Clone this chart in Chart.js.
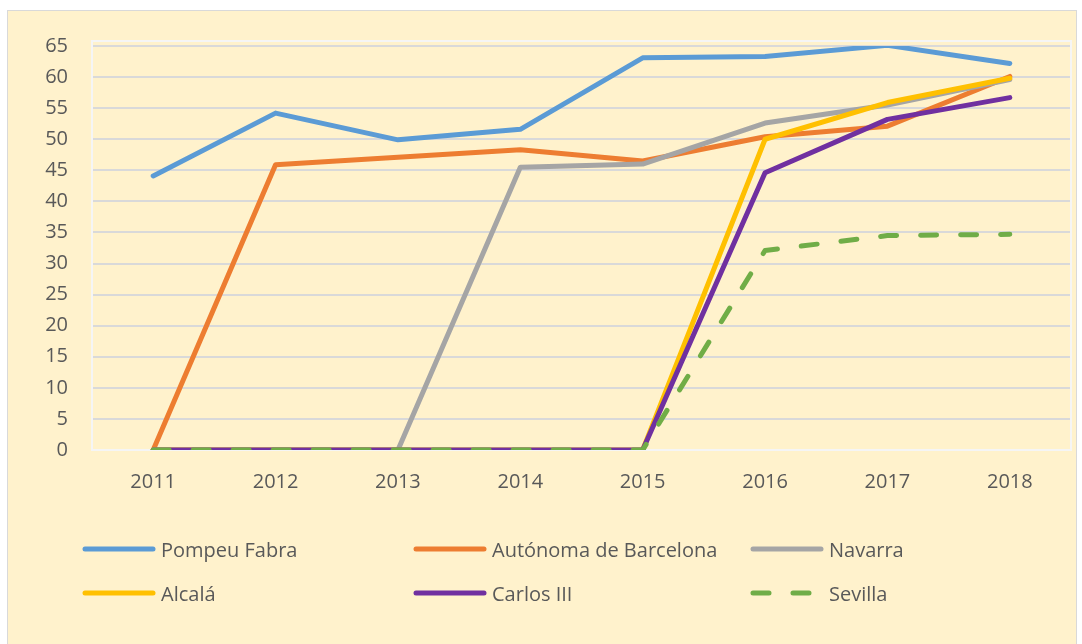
<!DOCTYPE html>
<html>
<head>
<meta charset="utf-8">
<script src="https://cdn.jsdelivr.net/npm/chart.js@4/dist/chart.umd.min.js"></script>
<style>
  body { margin: 0; background: #fff; width: 1082px; height: 644px; position: relative; overflow: hidden; }
  #panel { position: absolute; left: 7px; top: 10px; width: 1068px; height: 640px; background: #FFF2CC; border: 1px solid #D9D9D9; }
  #chartCanvas { position: absolute; left: 0; top: 0; }
  #legend { position: absolute; left: 0; top: 0; font-family: "Open Sans", sans-serif; font-size: 20px; color: #595959; }
  .item { position: absolute; display: flex; align-items: center; height: 30px; white-space: nowrap; }
  .item svg { margin-right: 5px; }
</style>
</head>
<body>
<div id="panel"></div>
<canvas id="chartCanvas" width="1082" height="644"></canvas>
<div id="legend"></div>
<script>
// Categories and series
const years = ['2011', '2012', '2013', '2014', '2015', '2016', '2017', '2018'];
const pompeuFabra = [44.1, 54.2, 49.9, 51.6, 63.1, 63.3, 65.1, 62.2];
const autonomaBarcelona = [0, 45.9, 47.1, 48.3, 46.5, 50.4, 52.1, 60.1];
const navarra = [0, 0, 0, 45.5, 46.0, 52.6, 55.5, 59.6];
const alcala = [0, 0, 0, 0, 0, 50.0, 55.9, 59.8];
const carlosIII = [0, 0, 0, 0, 0, 44.6, 53.2, 56.7];
const sevilla = [0, 0, 0, 0, 0, 32.1, 34.5, 34.7];
const yTicks = [0, 5, 10, 15, 20, 25, 30, 35, 40, 45, 50, 55, 60, 65];

const series = [
  { label: 'Pompeu Fabra', data: pompeuFabra, color: '#5B9BD5' },
  { label: 'Autónoma de Barcelona', data: autonomaBarcelona, color: '#ED7D31' },
  { label: 'Navarra', data: navarra, color: '#A5A5A5' },
  { label: 'Alcalá', data: alcala, color: '#FFC000' },
  { label: 'Carlos III', data: carlosIII, color: '#7030A0' },
  { label: 'Sevilla', data: sevilla, color: '#70AD47', dash: [16, 24] }
];

// faint frame round the plot area
const plotFrame = {
  id: 'plotFrame',
  beforeDatasetsDraw(chart) {
    const a = chart.chartArea;
    const ctx = chart.ctx;
    ctx.save();
    ctx.strokeStyle = '#F5F5F5';
    ctx.lineWidth = 2;
    ctx.strokeRect(a.left, a.top - 5, a.right - a.left, a.bottom - a.top + 5);
    ctx.restore();
  }
};

const tickFont = { family: '"Open Sans", sans-serif', size: 20 };

const ctx = document.getElementById('chartCanvas').getContext('2d');
const chart = new Chart(ctx, {
  type: 'line',
  data: {
    labels: years,
    datasets: series.map((s, i) => ({
      label: s.label,
      data: s.data,
      borderColor: s.color,
      backgroundColor: s.color,
      borderWidth: 5,
      borderDash: s.dash || [],
      borderCapStyle: 'round',
      borderJoinStyle: 'round',
      pointRadius: 0,
      tension: 0,
      fill: false,
      order: series.length - i
    }))
  },
  options: {
    responsive: false,
    animation: false,
    layout: { padding: { top: 46, right: 11, bottom: 144, left: 0 } },
    plugins: {
      legend: { display: false },
      tooltip: { enabled: false }
    },
    scales: {
      x: {
        offset: true,
        grid: { display: false, drawTicks: false },
        border: { display: false },
        ticks: { color: '#595959', font: tickFont, padding: 20 },
        afterFit: scale => { scale.height = 50; }
      },
      y: {
        min: 0,
        max: 65,
        afterBuildTicks: scale => { scale.ticks = yTicks.map(v => ({ value: v })); },
        grid: { color: '#D9D9D9', lineWidth: 2, drawTicks: false },
        border: { display: false },
        ticks: { color: '#595959', font: tickFont, padding: 24 },
        afterFit: scale => { scale.width = 92; }
      }
    }
  },
  plugins: [plotFrame]
});

// legend, three columns by two rows
const legend = document.getElementById('legend');
const colX = [82, 413, 750];
const rowY = [549, 593];
series.forEach((s, i) => {
  const item = document.createElement('div');
  item.className = 'item';
  item.style.left = colX[i % 3] + 'px';
  item.style.top = (rowY[Math.floor(i / 3)] - 15) + 'px';
  const dash = s.dash ? ' stroke-dasharray="' + s.dash.join(' ') + '"' : '';
  item.innerHTML = '<svg width="74" height="10"><line x1="3" y1="5" x2="71" y2="5" stroke="' + s.color +
    '" stroke-width="5" stroke-linecap="round"' + dash + '/></svg><span>' + s.label + '</span>';
  legend.appendChild(item);
});
</script>
</body>
</html>
